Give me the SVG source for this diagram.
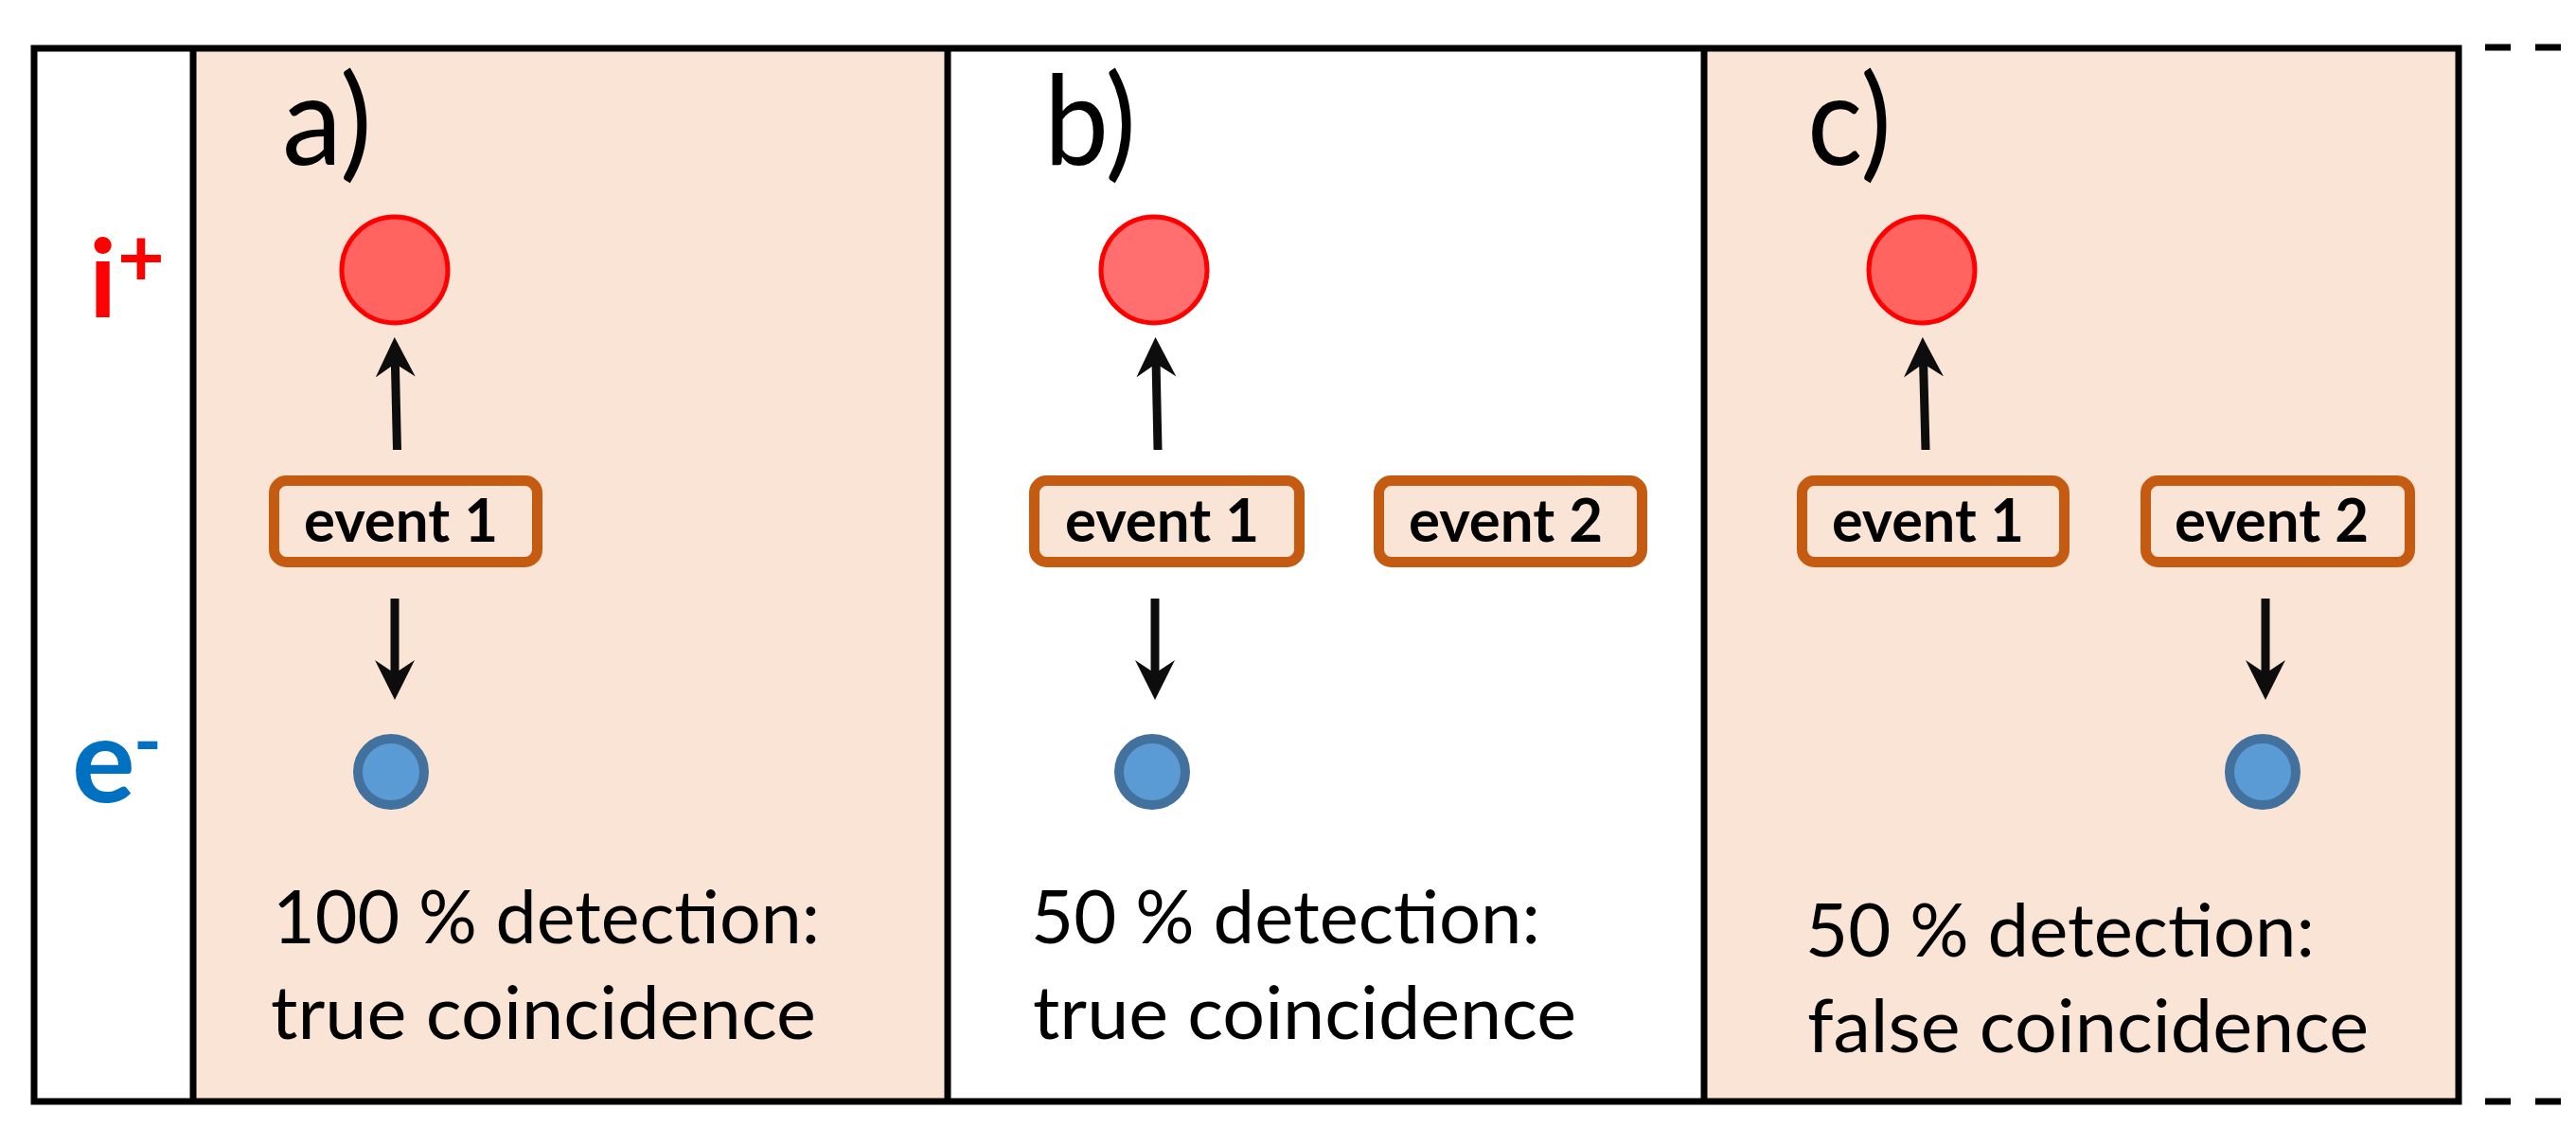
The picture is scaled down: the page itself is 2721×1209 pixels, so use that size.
<svg xmlns="http://www.w3.org/2000/svg" width="2721" height="1209" viewBox="0 0 2721 1209">
<style>
.frame{fill:none;stroke:#000;stroke-width:7}
.div{stroke:#000;stroke-width:7}
.panel{fill:#FAE4D6}
.box{fill:#FAE4D6;stroke:#C55A11;stroke-width:11}
.ev{font-family:Lato,"Liberation Sans",sans-serif;font-weight:bold;font-size:63px;fill:#000}
.lab{font-family:Lato,"Liberation Sans",sans-serif;font-size:132px;fill:#000}
.cap{font-family:Lato,"Liberation Sans",sans-serif;font-size:77px;fill:#000}
.ion{stroke:#FF0000;stroke-width:5}
.el{fill:#5B9BD5;stroke:#41719C;stroke-width:10}
.arr{stroke:#0D0D0D;stroke-width:9;fill:none;marker-end:url(#ah)}
</style>
<defs>
<marker id="ah" markerUnits="userSpaceOnUse" viewBox="0 -22 42 44" refX="18" refY="0" markerWidth="42" markerHeight="44" orient="auto">
<path d="M42,0 L0,-21 L14,0 L0,21 Z" fill="#0D0D0D"/>
</marker>
</defs>
<rect x="0" y="0" width="2721" height="1209" fill="#fff"/>
<g id="backgrounds">
<rect class="panel" x="204" y="51" width="797" height="1112"/>
<rect class="panel" x="1800" y="51" width="797" height="1112"/>
</g>
<g id="frame">
<rect class="frame" x="36" y="51" width="2561" height="1112"/>
<line class="div" x1="204" y1="51" x2="204" y2="1163"/>
<line class="div" x1="1001" y1="51" x2="1001" y2="1163"/>
<line class="div" x1="1800" y1="51" x2="1800" y2="1163"/>
<line class="div" x1="2625" y1="50" x2="2705" y2="50" stroke-dasharray="27 26"/>
<line class="div" x1="2625" y1="1163" x2="2705" y2="1163" stroke-dasharray="27 26"/>
</g>
<g id="axis-labels">
<text font-family="Lato,'Liberation Sans',sans-serif" font-weight="bold" fill="#FF0000"><tspan x="94" y="335" font-size="115">i</tspan><tspan x="124" y="302" font-size="86">+</tspan></text>
<text font-family="Lato,'Liberation Sans',sans-serif" font-weight="bold" fill="#0070C0"><tspan x="76" y="847" font-size="125">e</tspan><tspan x="141" y="811" font-size="80">-</tspan></text>
</g>
<g id="panel-labels">
<text class="lab" x="298" y="174" textLength="95" lengthAdjust="spacingAndGlyphs">a)</text>
<text class="lab" x="1103" y="174" textLength="97" lengthAdjust="spacingAndGlyphs">b)</text>
<text class="lab" x="1909" y="174" textLength="89" lengthAdjust="spacingAndGlyphs">c)</text>
</g>
<g id="ions">
<circle id="ion-a" class="ion" cx="417" cy="285" r="56" fill="#FF6460"/>
<circle id="ion-b" class="ion" cx="1219" cy="285" r="56" fill="#FF6F6F"/>
<circle id="ion-c" class="ion" cx="2030" cy="285" r="56" fill="#FF6460"/>
</g>
<g id="electrons">
<circle id="el-a" class="el" cx="413" cy="815" r="35"/>
<circle id="el-b" class="el" cx="1217" cy="815" r="35"/>
<circle id="el-c" class="el" cx="2390" cy="815" r="35"/>
</g>
<g id="event-a1">
<rect class="box" x="289.5" y="507.5" width="278" height="86" rx="13"/>
<text class="ev" x="321" y="572" textLength="205" lengthAdjust="spacingAndGlyphs">event 1</text>
</g>
<g id="event-b1">
<rect class="box" x="1092.5" y="507.5" width="280" height="86" rx="13"/>
<text class="ev" x="1125" y="572" textLength="205" lengthAdjust="spacingAndGlyphs">event 1</text>
</g>
<g id="event-b2">
<rect class="box" x="1456.5" y="507.5" width="278" height="86" rx="13"/>
<text class="ev" x="1488" y="572" textLength="205" lengthAdjust="spacingAndGlyphs">event 2</text>
</g>
<g id="event-c1">
<rect class="box" x="1903.5" y="507.5" width="277" height="86" rx="13"/>
<text class="ev" x="1935" y="572" textLength="203" lengthAdjust="spacingAndGlyphs">event 1</text>
</g>
<g id="event-c2">
<rect class="box" x="2266.5" y="507.5" width="279" height="86" rx="13"/>
<text class="ev" x="2297" y="572" textLength="205" lengthAdjust="spacingAndGlyphs">event 2</text>
</g>
<g id="connectors">
<line class="arr" x1="419.5" y1="475" x2="417.3" y2="380"/>
<line class="arr" x1="1223" y1="475" x2="1221" y2="380"/>
<line class="arr" x1="2034" y1="475" x2="2031.5" y2="380"/>
<line class="arr" x1="417" y1="632" x2="417" y2="715"/>
<line class="arr" x1="1220" y1="632" x2="1220" y2="715"/>
<line class="arr" x1="2393" y1="632" x2="2393" y2="715"/>
</g>
<g id="captions">
<text class="cap" x="288" y="996" textLength="578" lengthAdjust="spacingAndGlyphs">100 % detection:</text>
<text class="cap" x="286" y="1097" textLength="576" lengthAdjust="spacingAndGlyphs">true coincidence</text>
<text class="cap" x="1089" y="996" textLength="538" lengthAdjust="spacingAndGlyphs">50 % detection:</text>
<text class="cap" x="1091" y="1097" textLength="574" lengthAdjust="spacingAndGlyphs">true coincidence</text>
<text class="cap" x="1907" y="1010" textLength="538" lengthAdjust="spacingAndGlyphs">50 % detection:</text>
<text class="cap" x="1909" y="1111" textLength="593" lengthAdjust="spacingAndGlyphs">false coincidence</text>
</g>
</svg>
